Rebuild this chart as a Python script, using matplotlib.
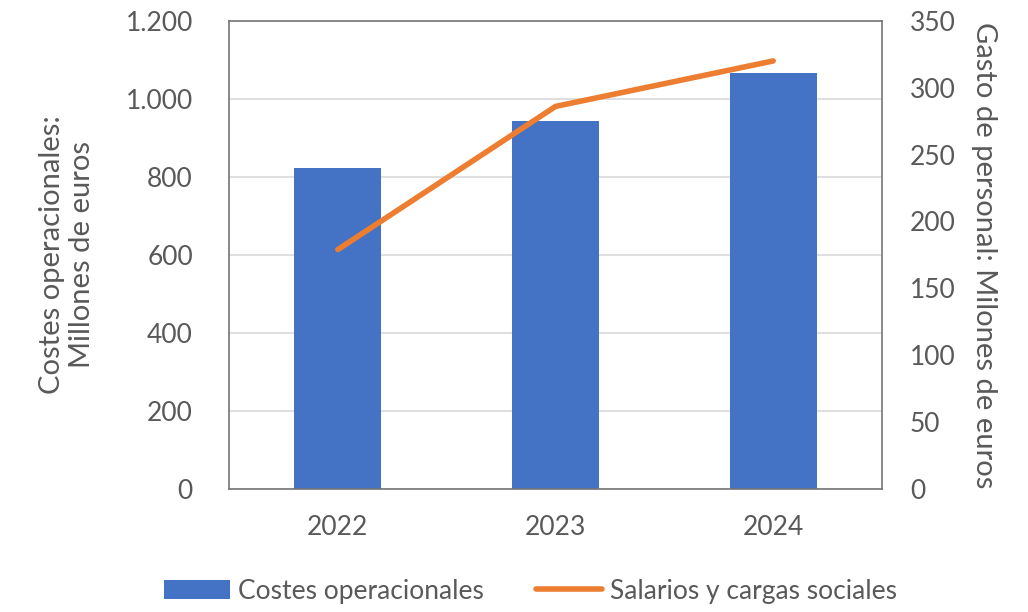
import matplotlib
matplotlib.use('Agg')
import matplotlib.pyplot as plt
from matplotlib.ticker import FuncFormatter

years = ['2022', '2023', '2024']
costes = [823, 942, 1067]          # millones de euros
salarios = [179, 286, 320]         # millones de euros

grey = '#595959'
plt.rcParams['font.family'] = ['Lato', 'DejaVu Sans']

fig = plt.figure(figsize=(10.28, 6.12), dpi=100)
ax = fig.add_axes([0.2228, 0.201, 0.6352, 0.765])
x = range(len(years))
ax.bar(x, costes, width=0.4, color='#4472C4', label='Costes operacionales', zorder=2)
ax.set_ylim(0, 1200)
ax.set_yticks(range(0, 1201, 200))
ax.yaxis.set_major_formatter(FuncFormatter(lambda v, p: f'{int(v):,}'.replace(',', '.')))
ax.set_xlim(-0.5, 2.5)
ax.set_xticks(list(x))
ax.set_xticklabels(years)
ax.grid(axis='y', color='#D9D9D9', linewidth=1.2, zorder=0)
ax.set_axisbelow(True)
for s in ax.spines.values():
    s.set_color('#767676')
    s.set_linewidth(1.2)
ax.tick_params(axis='y', length=0, labelsize=19, colors=grey, pad=26)
ax.tick_params(axis='x', length=0, labelsize=19, colors=grey, pad=19)
ax.set_ylabel('Costes operacionales:\nMillones de euros', fontsize=21, color=grey,
              labelpad=22, linespacing=1.2)

ax2 = ax.twinx()
ax2.plot(list(x), salarios, color='#ED7D31', linewidth=4, solid_capstyle='round',
         label='Salarios y cargas sociales', zorder=3)
ax2.set_ylim(0, 350)
ax2.set_yticks(range(0, 351, 50))
ax2.tick_params(length=0, labelsize=19, colors=grey, pad=20)
for s in ax2.spines.values():
    s.set_visible(False)
ax2.set_ylabel('Gasto de personal: Milones de euros', fontsize=21, color=grey,
               rotation=-90, labelpad=30)

h1, l1 = ax.get_legend_handles_labels()
h2, l2 = ax2.get_legend_handles_labels()
fig.legend(h1 + h2, l1 + l2, loc='lower center', bbox_to_anchor=(0.516, -0.025), ncol=2,
           frameon=False, fontsize=19, labelcolor=grey, columnspacing=2.0,
           handlelength=2.5, handletextpad=0.3)

fig.savefig('out.png', dpi=100)
